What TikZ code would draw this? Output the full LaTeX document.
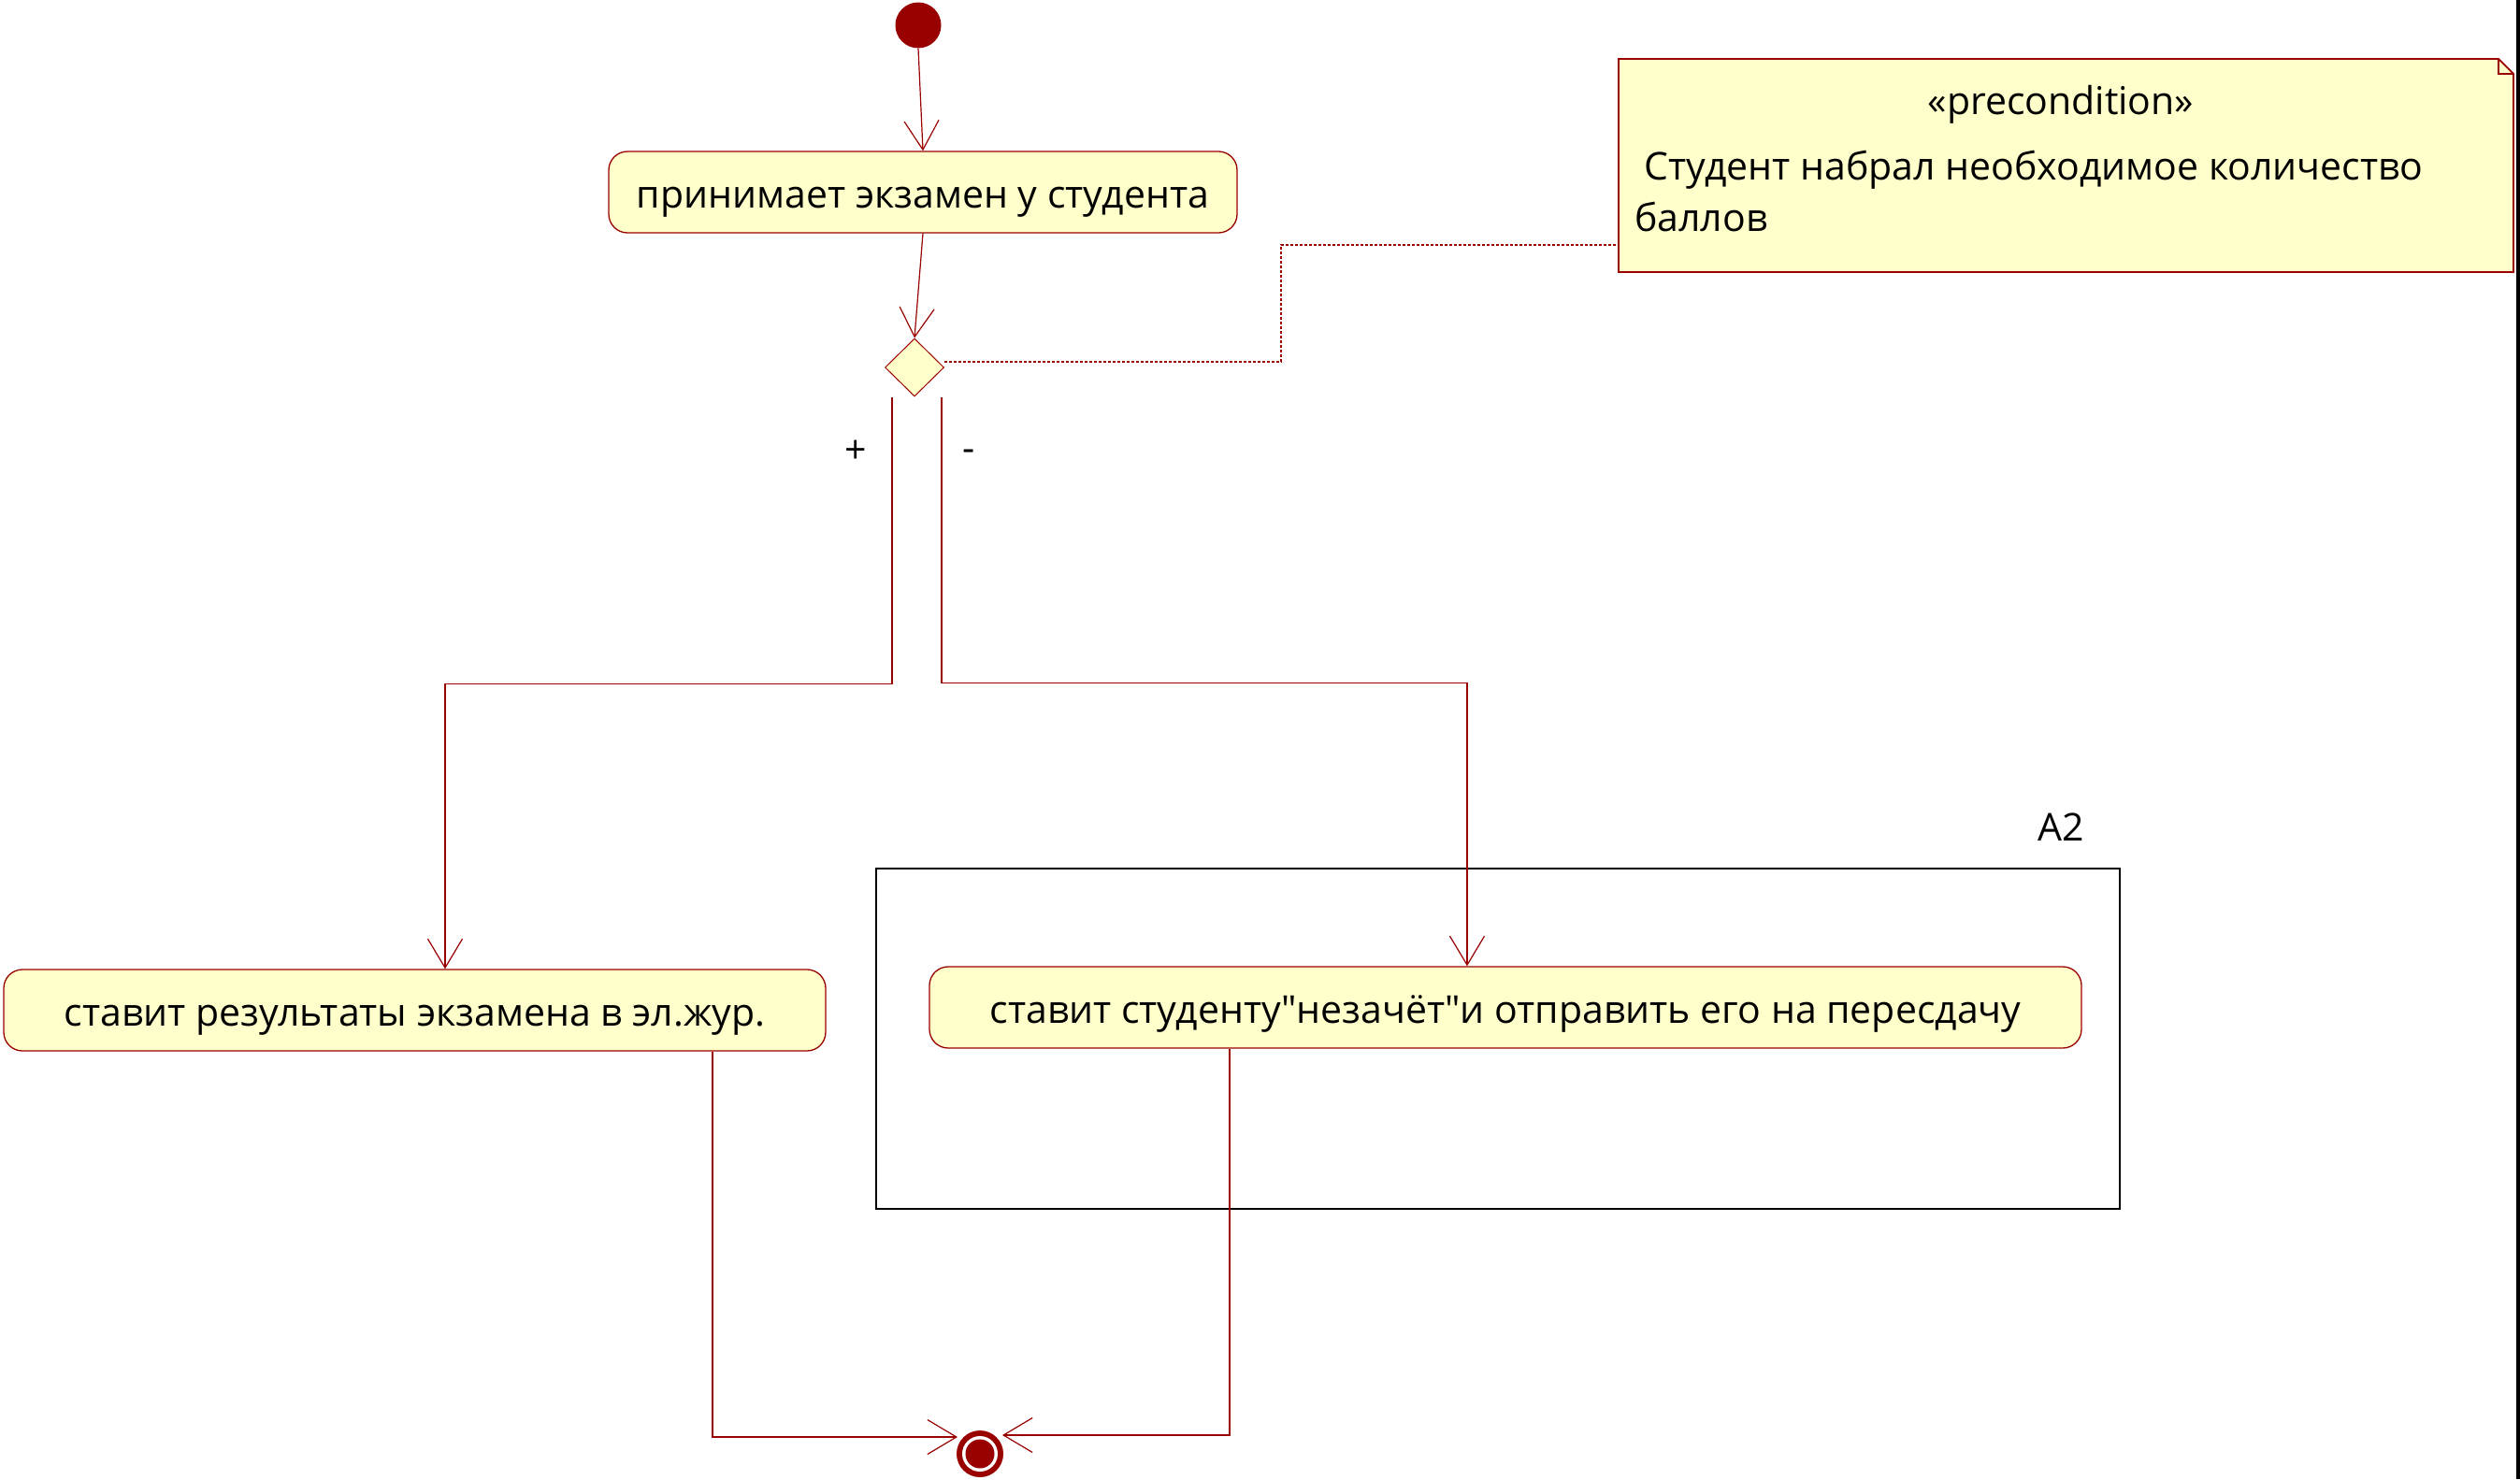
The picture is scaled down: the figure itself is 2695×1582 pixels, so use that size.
\documentclass[tikz,border=0pt]{standalone}
\usepackage{fontspec}
\setmainfont{Open Sans}[Ligatures=TeXOff]
\usetikzlibrary{arrows.meta,shapes.geometric}
\definecolor{umlred}{HTML}{990000}
\definecolor{umlfill}{HTML}{FFFFCC}
\newcommand\bigtxt{\fontsize{41}{55}\selectfont}
\tikzset{
  act/.style={draw=umlred, fill=umlfill, line width=1.3pt, rounded corners=20pt,
    minimum height=87pt, text height=33pt, text depth=0pt, inner sep=0pt, font=\bigtxt},
  conn/.style={draw=umlred, line width=1.2pt,
    -{Straight Barb[length=31pt,width=37pt,line width=1.2pt]}},
  dashconn/.style={draw=umlred, line width=1.2pt, dash pattern=on 3pt off 2pt},
  lbl/.style={inner sep=0pt, font=\bigtxt, text=black},
}
\begin{document}
\begin{tikzpicture}[x=1pt,y=-1pt]
\useasboundingbox (0,0) rectangle (2695,1582);
\fill[white] (0,0) rectangle (2695,1582);
\fill[black] (2691,0) rectangle (2695,1582);

% partition
\node[draw=black, line width=1.8pt, minimum width=1330pt, minimum height=364pt,
  inner sep=0pt, anchor=north west] (part) at (936,928) {};
\node[lbl, anchor=base] (a2lbl) at (2204,899) {A2};

% start
\node[circle, fill=umlred, minimum size=49pt, inner sep=0pt] (start) at (982,27) {};

% actions
\node[act, minimum width=672pt] (a1) at (987,205.5) {принимает экзамен у студента};
\node[act, minimum width=879pt] (a2) at (443.5,1080.5) {ставит результаты экзамена в эл.жур.};
\node[act, minimum width=1232pt] (a3) at (1610,1077.5) {ставит студенту"незачёт"и отправить его на пересдачу};

% decision
\node[diamond, draw=umlred, fill=umlfill, line width=1pt, minimum width=63pt,
  minimum height=62pt, inner sep=0pt] (dia) at (978,393) {};

% final
\node[circle, fill=umlred, minimum size=50pt, inner sep=0pt] (fin) at (1048,1555) {};
\fill[white] (fin.center) circle[radius=19pt];
\fill[umlred] (fin.center) circle[radius=15.5pt];

% note
\filldraw[draw=umlred, fill=umlfill, line width=1.8pt]
  (1731,63) -- (2672,63) -- (2688,79) -- (2688,291) -- (1731,291) -- cycle;
\draw[umlred, line width=1.4pt] (2672,63) -- (2672,79) -- (2688,79);
\coordinate (notel) at (1731,262);
\node[lbl, anchor=base] (st) at (2204,122) {«precondition»};
\node[lbl, anchor=base west] (nt1) at (1758,192) {Студент набрал необходимое количество};
\node[lbl, anchor=base west] (nt2) at (1748,247) {баллов};

% connectors
\draw[conn] (start.south) -- (a1.north);
\draw[conn] (a1.south) -- (dia.north);
\draw[conn] ([xshift=-24pt]dia.south) -- ++(0,307) -| ([xshift=32.5pt]a2.north);
\draw[conn] ([xshift=29pt]dia.south) -- ++(0,306) -| ([xshift=-41pt]a3.north);
\draw[conn] ([xshift=318.5pt]a2.south) |- ([xshift=-24pt,yshift=18pt]fin.center);
\draw[conn] ([xshift=-295pt]a3.south) |- ([xshift=24pt,yshift=20pt]fin.center);
\draw[dashconn] ([yshift=6pt]dia.east) -| (1370,262) -- (notel);

% guard labels
\node[lbl] (plus) at (915,483) {+};
\node[lbl] (minus) at (1036,487) {-};
\end{tikzpicture}
\end{document}
